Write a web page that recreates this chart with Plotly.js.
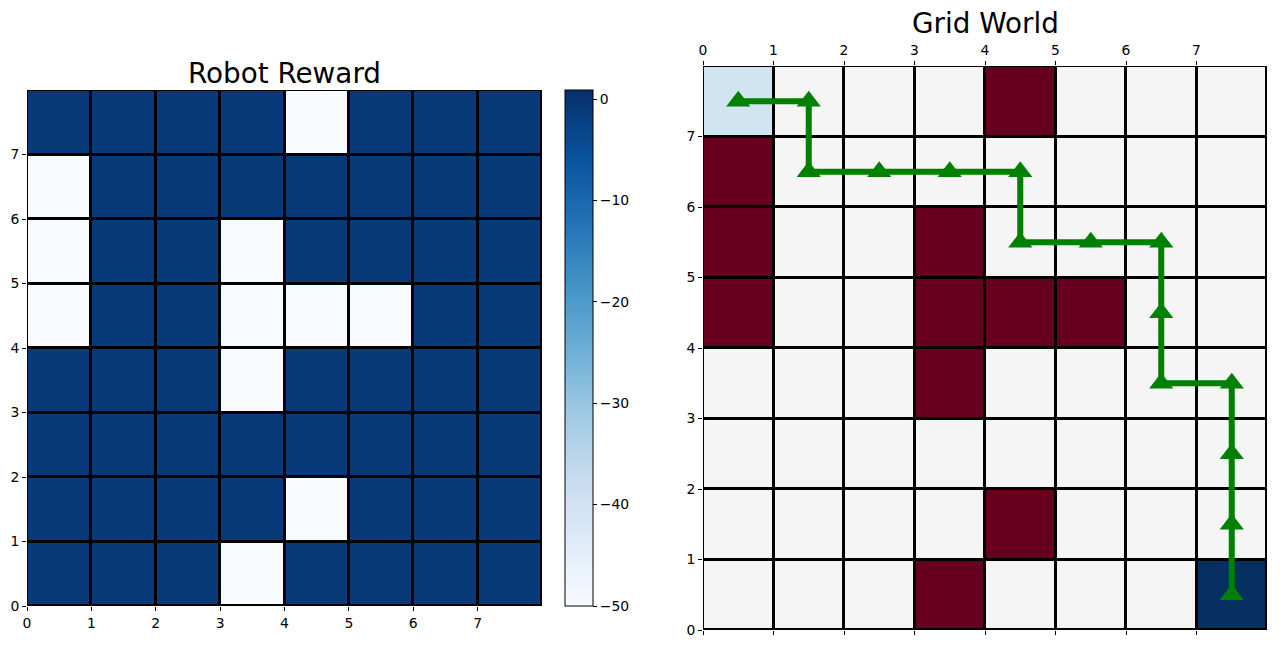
<!DOCTYPE html>
<html>
<head>
<meta charset="utf-8">
<script src="https://cdn.plot.ly/plotly-3.0.1.min.js"></script>
<style>
  body { margin: 0; background: #fff; }
  #chart { width: 1287px; height: 655px; }
</style>
</head>
<body>
<div id="chart"></div>
<script>
// cell centres along each axis
let cellCenters = [0.5, 1.5, 2.5, 3.5, 4.5, 5.5, 6.5, 7.5];
let tickVals = [0, 1, 2, 3, 4, 5, 6, 7];

// reward per cell, row 0 = bottom
let rewardRows = [
    [-1, -1, -1, -50, -1, -1, -1, -1],
    [-1, -1, -1, -1, -50, -1, -1, -1],
    [-1, -1, -1, -1, -1, -1, -1, -1],
    [-1, -1, -1, -50, -1, -1, -1, -1],
    [-50, -1, -1, -50, -50, -50, -1, -1],
    [-50, -1, -1, -50, -1, -1, -1, -1],
    [-50, -1, -1, -1, -1, -1, -1, -1],
    [-1, -1, -1, -1, -50, -1, -1, -1],
];

// grid world cells: -1 obstacle, 0 free, 0.5 start, 1 goal
let worldRows = [
    [0, 0, 0, -1, 0, 0, 0, 1],
    [0, 0, 0, 0, -1, 0, 0, 0],
    [0, 0, 0, 0, 0, 0, 0, 0],
    [0, 0, 0, -1, 0, 0, 0, 0],
    [-1, 0, 0, -1, -1, -1, 0, 0],
    [-1, 0, 0, -1, 0, 0, 0, 0],
    [-1, 0, 0, 0, 0, 0, 0, 0],
    [0.5, 0, 0, 0, -1, 0, 0, 0],
];

// robot path through cell centres
let pathX = [0.5, 1.5, 1.5, 2.5, 3.5, 4.5, 4.5, 5.5, 6.5, 6.5, 6.5, 7.5, 7.5, 7.5, 7.5];
let pathY = [7.5, 7.5, 6.5, 6.5, 6.5, 6.5, 5.5, 5.5, 5.5, 4.5, 3.5, 3.5, 2.5, 1.5, 0.5];

let cbTicks = [0, -10, -20, -30, -40, -50];

let blues = [
    [0, '#f7fbff'], [0.125, '#deebf7'], [0.25, '#c6dbef'], [0.375, '#9ecae1'],
    [0.5, '#6baed6'], [0.625, '#4292c6'], [0.75, '#2171b5'], [0.875, '#08519c'],
    [1, '#08306b'],
];

let W = 1287, H = 655;
let font = { family: 'DejaVu Sans', size: 13.9, color: '#000' };
let titleFont = { family: 'DejaVu Sans', size: 27.8, color: '#000' };

let reward = {
    type: 'heatmap',
    x: cellCenters,
    y: cellCenters,
    z: rewardRows,
    zmin: -50,
    zmax: 0.9,
    colorscale: blues,
    xgap: 3,
    ygap: 3,
    xaxis: 'x',
    yaxis: 'y',
    colorbar: {
        x: 565 / W, xanchor: 'left', xref: 'paper',
        y: 49 / H, yanchor: 'bottom', yref: 'paper',
        len: 516 / H, lenmode: 'fraction',
        thickness: 28, thicknessmode: 'pixels',
        outlinewidth: 1, outlinecolor: '#000',
        tickvals: cbTicks,
        ticktext: cbTicks.map(v => (v < 0 ? '\u2212' + (-v) : '' + v)),
        ticks: 'outside', ticklen: 4, tickcolor: '#000',
        tickfont: font,
        xpad: 0, ypad: 0,
    },
};

let world = {
    type: 'heatmap',
    x: cellCenters,
    y: cellCenters,
    z: worldRows,
    zmin: -1,
    zmax: 1,
    colorscale: [[0, '#67001f'], [0.5, '#f5f5f5'], [0.75, '#d1e5f0'], [1, '#053061']],
    showscale: false,
    xgap: 3,
    ygap: 3,
    xaxis: 'x2',
    yaxis: 'y2',
};

let path = {
    type: 'scatter',
    mode: 'lines+markers',
    x: pathX,
    y: pathY,
    line: { color: '#008000', width: 6 },
    marker: { symbol: 'triangle-up', size: 21, color: '#008000' },
    xaxis: 'x2',
    yaxis: 'y2',
    showlegend: false,
};

let axisBase = {
    range: [0, 8],
    tickvals: tickVals,
    ticks: 'outside',
    ticklen: 4,
    tickwidth: 1,
    tickcolor: '#000',
    tickfont: font,
    showgrid: false,
    zeroline: false,
    showline: false,
    fixedrange: true,
};

let layout = {
    width: W,
    height: H,
    margin: { l: 0, r: 0, t: 0, b: 0 },
    paper_bgcolor: '#fff',
    plot_bgcolor: '#000',
    showlegend: false,
    font: font,
    xaxis: Object.assign({}, axisBase, { domain: [27 / W, 542 / W], anchor: 'y' }),
    yaxis: Object.assign({}, axisBase, { domain: [49 / H, 565 / H], anchor: 'x' }),
    xaxis2: Object.assign({}, axisBase, { domain: [703 / W, 1267 / W], anchor: 'y2', side: 'top' }),
    yaxis2: Object.assign({}, axisBase, { domain: [25 / H, 589 / H], anchor: 'x2' }),
    xaxis3: Object.assign({}, axisBase, {
        overlaying: 'x2', anchor: 'y2', side: 'bottom', showticklabels: false,
    }),
    annotations: [
        {
            text: 'Robot Reward', xref: 'paper', yref: 'paper',
            x: 284.5 / W, y: (H - 73) / H, xanchor: 'center', yanchor: 'middle',
            showarrow: false, font: titleFont,
        },
        {
            text: 'Grid World', xref: 'paper', yref: 'paper',
            x: 985 / W, y: (H - 24) / H, xanchor: 'center', yanchor: 'middle',
            showarrow: false, font: titleFont,
        },
    ],
};

// invisible trace so the bottom tick axis is drawn
let bottomTicks = {
    type: 'scatter', x: [0], y: [0], mode: 'markers',
    marker: { opacity: 0 }, xaxis: 'x3', yaxis: 'y2', hoverinfo: 'skip',
};

Plotly.newPlot('chart', [reward, world, path, bottomTicks], layout, { displayModeBar: false, staticPlot: true });
</script>
</body>
</html>
